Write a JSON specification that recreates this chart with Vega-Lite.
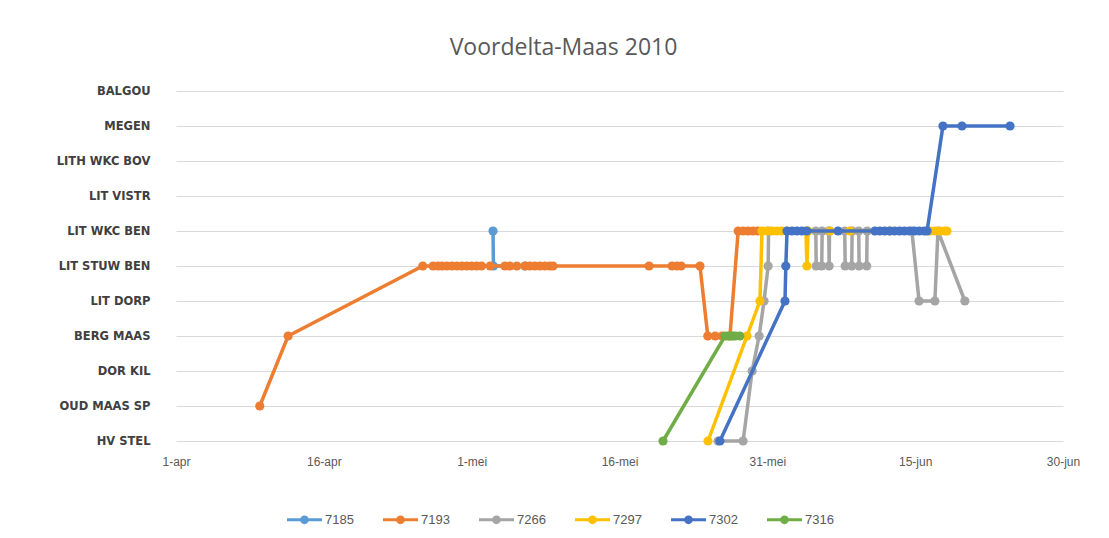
{
  "$schema": "https://vega.github.io/schema/vega-lite/v6.json",
  "width": 887,
  "height": 350,
  "autosize": {"type": "none"},
  "padding": {"left": 176, "top": 91, "right": 46, "bottom": 97},
  "background": "white",
  "title": {
    "text": "Voordelta-Maas 2010",
    "font": "Open Sans",
    "fontSize": 23,
    "fontWeight": "normal",
    "color": "#595959",
    "anchor": "middle",
    "frame": "group",
    "dx": -56,
    "offset": 25
  },
  "config": {
    "view": {"stroke": null},
    "axis": {"gridColor": "#D9D9D9", "gridWidth": 1, "domain": false, "ticks": false}
  },
  "data": {
    "values": [
      {"series": "7185", "date": "2010-05-03T04:00", "station": "LIT WKC BEN"},
      {"series": "7185", "date": "2010-05-03T05:00", "station": "LIT STUW BEN"},
      {"series": "7185", "date": "2010-05-06T10:00", "station": "LIT STUW BEN"},

      {"series": "7193", "date": "2010-04-09T12:00", "station": "OUD MAAS SP"},
      {"series": "7193", "date": "2010-04-12T09:00", "station": "BERG MAAS"},
      {"series": "7193", "date": "2010-04-26T01:00", "station": "LIT STUW BEN"},
      {"series": "7193", "date": "2010-04-27T02:00", "station": "LIT STUW BEN"},
      {"series": "7193", "date": "2010-04-27T14:00", "station": "LIT STUW BEN"},
      {"series": "7193", "date": "2010-04-28T00:00", "station": "LIT STUW BEN"},
      {"series": "7193", "date": "2010-04-28T12:00", "station": "LIT STUW BEN"},
      {"series": "7193", "date": "2010-04-29T00:00", "station": "LIT STUW BEN"},
      {"series": "7193", "date": "2010-04-29T12:00", "station": "LIT STUW BEN"},
      {"series": "7193", "date": "2010-04-30T00:00", "station": "LIT STUW BEN"},
      {"series": "7193", "date": "2010-04-30T12:00", "station": "LIT STUW BEN"},
      {"series": "7193", "date": "2010-05-01T00:00", "station": "LIT STUW BEN"},
      {"series": "7193", "date": "2010-05-01T12:00", "station": "LIT STUW BEN"},
      {"series": "7193", "date": "2010-05-02T00:00", "station": "LIT STUW BEN"},
      {"series": "7193", "date": "2010-05-02T21:00", "station": "LIT STUW BEN"},
      {"series": "7193", "date": "2010-05-04T09:00", "station": "LIT STUW BEN"},
      {"series": "7193", "date": "2010-05-04T21:00", "station": "LIT STUW BEN"},
      {"series": "7193", "date": "2010-05-05T14:00", "station": "LIT STUW BEN"},
      {"series": "7193", "date": "2010-05-06T10:00", "station": "LIT STUW BEN"},
      {"series": "7193", "date": "2010-05-06T22:00", "station": "LIT STUW BEN"},
      {"series": "7193", "date": "2010-05-07T10:00", "station": "LIT STUW BEN"},
      {"series": "7193", "date": "2010-05-07T22:00", "station": "LIT STUW BEN"},
      {"series": "7193", "date": "2010-05-08T10:00", "station": "LIT STUW BEN"},
      {"series": "7193", "date": "2010-05-08T22:00", "station": "LIT STUW BEN"},
      {"series": "7193", "date": "2010-05-09T06:00", "station": "LIT STUW BEN"},
      {"series": "7193", "date": "2010-05-19T00:00", "station": "LIT STUW BEN"},
      {"series": "7193", "date": "2010-05-21T08:00", "station": "LIT STUW BEN"},
      {"series": "7193", "date": "2010-05-21T20:00", "station": "LIT STUW BEN"},
      {"series": "7193", "date": "2010-05-22T06:00", "station": "LIT STUW BEN"},
      {"series": "7193", "date": "2010-05-24T04:00", "station": "LIT STUW BEN"},
      {"series": "7193", "date": "2010-05-24T23:00", "station": "BERG MAAS"},
      {"series": "7193", "date": "2010-05-25T17:00", "station": "BERG MAAS"},
      {"series": "7193", "date": "2010-05-26T10:00", "station": "BERG MAAS"},
      {"series": "7193", "date": "2010-05-27T05:00", "station": "BERG MAAS"},
      {"series": "7193", "date": "2010-05-28T01:00", "station": "LIT WKC BEN"},
      {"series": "7193", "date": "2010-05-28T13:00", "station": "LIT WKC BEN"},
      {"series": "7193", "date": "2010-05-29T01:00", "station": "LIT WKC BEN"},
      {"series": "7193", "date": "2010-05-29T13:00", "station": "LIT WKC BEN"},
      {"series": "7193", "date": "2010-05-30T01:00", "station": "LIT WKC BEN"},

      {"series": "7266", "date": "2010-05-26T00:00", "station": "HV STEL"},
      {"series": "7266", "date": "2010-05-28T13:00", "station": "HV STEL"},
      {"series": "7266", "date": "2010-05-29T11:00", "station": "DOR KIL"},
      {"series": "7266", "date": "2010-05-30T04:00", "station": "BERG MAAS"},
      {"series": "7266", "date": "2010-05-30T16:00", "station": "LIT DORP"},
      {"series": "7266", "date": "2010-05-31T02:00", "station": "LIT STUW BEN"},
      {"series": "7266", "date": "2010-05-31T03:00", "station": "LIT WKC BEN"},
      {"series": "7266", "date": "2010-06-04T22:00", "station": "LIT WKC BEN"},
      {"series": "7266", "date": "2010-06-04T23:00", "station": "LIT STUW BEN"},
      {"series": "7266", "date": "2010-06-05T12:30", "station": "LIT STUW BEN"},
      {"series": "7266", "date": "2010-06-05T13:30", "station": "LIT WKC BEN"},
      {"series": "7266", "date": "2010-06-06T05:30", "station": "LIT WKC BEN"},
      {"series": "7266", "date": "2010-06-06T06:30", "station": "LIT STUW BEN"},
      {"series": "7266", "date": "2010-06-06T07:30", "station": "LIT WKC BEN"},
      {"series": "7266", "date": "2010-06-07T20:30", "station": "LIT WKC BEN"},
      {"series": "7266", "date": "2010-06-07T21:30", "station": "LIT STUW BEN"},
      {"series": "7266", "date": "2010-06-08T13:30", "station": "LIT STUW BEN"},
      {"series": "7266", "date": "2010-06-08T14:30", "station": "LIT WKC BEN"},
      {"series": "7266", "date": "2010-06-09T06:30", "station": "LIT WKC BEN"},
      {"series": "7266", "date": "2010-06-09T07:30", "station": "LIT STUW BEN"},
      {"series": "7266", "date": "2010-06-10T02:00", "station": "LIT STUW BEN"},
      {"series": "7266", "date": "2010-06-10T03:00", "station": "LIT WKC BEN"},
      {"series": "7266", "date": "2010-06-14T16:00", "station": "LIT WKC BEN"},
      {"series": "7266", "date": "2010-06-15T09:30", "station": "LIT DORP"},
      {"series": "7266", "date": "2010-06-17T00:00", "station": "LIT DORP"},
      {"series": "7266", "date": "2010-06-17T07:30", "station": "LIT WKC BEN"},
      {"series": "7266", "date": "2010-06-20T01:00", "station": "LIT DORP"},

      {"series": "7297", "date": "2010-05-24T23:30", "station": "HV STEL"},
      {"series": "7297", "date": "2010-05-28T22:30", "station": "BERG MAAS"},
      {"series": "7297", "date": "2010-05-30T06:00", "station": "LIT DORP"},
      {"series": "7297", "date": "2010-05-30T11:00", "station": "LIT WKC BEN"},
      {"series": "7297", "date": "2010-05-30T23:00", "station": "LIT WKC BEN"},
      {"series": "7297", "date": "2010-05-31T11:00", "station": "LIT WKC BEN"},
      {"series": "7297", "date": "2010-05-31T23:00", "station": "LIT WKC BEN"},
      {"series": "7297", "date": "2010-06-01T11:00", "station": "LIT WKC BEN"},
      {"series": "7297", "date": "2010-06-01T23:00", "station": "LIT WKC BEN"},
      {"series": "7297", "date": "2010-06-03T22:00", "station": "LIT WKC BEN"},
      {"series": "7297", "date": "2010-06-04T00:30", "station": "LIT STUW BEN"},
      {"series": "7297", "date": "2010-06-04T03:00", "station": "LIT WKC BEN"},
      {"series": "7297", "date": "2010-06-06T08:30", "station": "LIT WKC BEN"},
      {"series": "7297", "date": "2010-06-08T09:00", "station": "LIT WKC BEN"},
      {"series": "7297", "date": "2010-06-12T10:30", "station": "LIT WKC BEN"},
      {"series": "7297", "date": "2010-06-16T12:00", "station": "LIT WKC BEN"},
      {"series": "7297", "date": "2010-06-17T00:00", "station": "LIT WKC BEN"},
      {"series": "7297", "date": "2010-06-17T12:00", "station": "LIT WKC BEN"},
      {"series": "7297", "date": "2010-06-18T00:00", "station": "LIT WKC BEN"},
      {"series": "7297", "date": "2010-06-18T05:30", "station": "LIT WKC BEN"},

      {"series": "7302", "date": "2010-05-26T04:30", "station": "HV STEL"},
      {"series": "7302", "date": "2010-06-01T19:00", "station": "LIT DORP"},
      {"series": "7302", "date": "2010-06-01T21:00", "station": "LIT STUW BEN"},
      {"series": "7302", "date": "2010-06-02T00:00", "station": "LIT WKC BEN"},
      {"series": "7302", "date": "2010-06-02T12:00", "station": "LIT WKC BEN"},
      {"series": "7302", "date": "2010-06-03T00:00", "station": "LIT WKC BEN"},
      {"series": "7302", "date": "2010-06-03T12:00", "station": "LIT WKC BEN"},
      {"series": "7302", "date": "2010-06-04T00:00", "station": "LIT WKC BEN"},
      {"series": "7302", "date": "2010-06-07T04:00", "station": "LIT WKC BEN"},
      {"series": "7302", "date": "2010-06-10T22:00", "station": "LIT WKC BEN"},
      {"series": "7302", "date": "2010-06-11T10:00", "station": "LIT WKC BEN"},
      {"series": "7302", "date": "2010-06-11T22:00", "station": "LIT WKC BEN"},
      {"series": "7302", "date": "2010-06-12T10:00", "station": "LIT WKC BEN"},
      {"series": "7302", "date": "2010-06-12T22:00", "station": "LIT WKC BEN"},
      {"series": "7302", "date": "2010-06-13T10:00", "station": "LIT WKC BEN"},
      {"series": "7302", "date": "2010-06-13T22:00", "station": "LIT WKC BEN"},
      {"series": "7302", "date": "2010-06-14T10:00", "station": "LIT WKC BEN"},
      {"series": "7302", "date": "2010-06-14T22:00", "station": "LIT WKC BEN"},
      {"series": "7302", "date": "2010-06-15T10:00", "station": "LIT WKC BEN"},
      {"series": "7302", "date": "2010-06-15T22:00", "station": "LIT WKC BEN"},
      {"series": "7302", "date": "2010-06-16T05:00", "station": "LIT WKC BEN"},
      {"series": "7302", "date": "2010-06-17T19:40", "station": "MEGEN"},
      {"series": "7302", "date": "2010-06-19T18:00", "station": "MEGEN"},
      {"series": "7302", "date": "2010-06-24T15:00", "station": "MEGEN"},

      {"series": "7316", "date": "2010-05-20T10:00", "station": "HV STEL"},
      {"series": "7316", "date": "2010-05-26T17:00", "station": "BERG MAAS"},
      {"series": "7316", "date": "2010-05-27T00:00", "station": "BERG MAAS"},
      {"series": "7316", "date": "2010-05-27T06:00", "station": "BERG MAAS"},
      {"series": "7316", "date": "2010-05-27T12:00", "station": "BERG MAAS"},
      {"series": "7316", "date": "2010-05-27T18:00", "station": "BERG MAAS"},
      {"series": "7316", "date": "2010-05-28T05:00", "station": "BERG MAAS"}
    ]
  },
  "encoding": {
    "x": {
      "field": "date",
      "type": "temporal",
      "scale": {
        "domain": [
          {"year": 2010, "month": "apr", "date": 1},
          {"year": 2010, "month": "jun", "date": 30}
        ]
      },
      "axis": {
        "title": null,
        "grid": false,
        "values": [
          {"year": 2010, "month": "apr", "date": 1},
          {"year": 2010, "month": "apr", "date": 16},
          {"year": 2010, "month": "may", "date": 1},
          {"year": 2010, "month": "may", "date": 16},
          {"year": 2010, "month": "may", "date": 31},
          {"year": 2010, "month": "jun", "date": 15},
          {"year": 2010, "month": "jun", "date": 30}
        ],
        "labelExpr": "date(datum.value) + '-' + ['jan','feb','mrt','apr','mei','jun','jul'][month(datum.value)]",
        "labelFont": "Liberation Sans",
        "labelFontSize": 12,
        "labelColor": "#595959",
        "labelPadding": 15,
        "labelFlush": false,
        "labelOverlap": false
      }
    },
    "y": {
      "field": "station",
      "type": "ordinal",
      "scale": {
        "type": "point",
        "padding": 0,
        "domain": ["BALGOU", "MEGEN", "LITH WKC BOV", "LIT VISTR", "LIT WKC BEN", "LIT STUW BEN", "LIT DORP", "BERG MAAS", "DOR KIL", "OUD MAAS SP", "HV STEL"]
      },
      "axis": {
        "title": null,
        "grid": true,
        "labelFont": "DejaVu Sans",
        "labelFontWeight": "bold",
        "labelFontSize": 11.5,
        "labelColor": "#404040",
        "labelPadding": 26
      }
    },
    "color": {
      "field": "series",
      "type": "nominal",
      "scale": {
        "domain": ["7185", "7193", "7266", "7297", "7302", "7316"],
        "range": ["#5B9BD5", "#ED7D31", "#A5A5A5", "#FFC000", "#4472C4", "#70AD47"]
      },
      "legend": {
        "title": null,
        "orient": "none",
        "direction": "horizontal",
        "legendX": 111,
        "legendY": 411,
        "symbolType": "M-1,-0.09L1,-0.09L1,0.09L-1,0.09Z M0.25,0A0.25,0.25,0,1,1,-0.25,0A0.25,0.25,0,1,1,0.25,0Z",
        "symbolSize": 1225,
        "symbolStrokeWidth": 0,
        "labelFont": "Liberation Sans",
        "labelFontSize": 13,
        "labelColor": "#595959",
        "labelOffset": 3,
        "columnPadding": 29,
        "encode": {
          "symbols": {
            "update": {
              "fill": {"scale": "color", "field": "value"},
              "stroke": {"value": "transparent"},
              "opacity": {"value": 1}
            }
          }
        }
      }
    }
  },
  "layer": [
    {"transform": [{"filter": "datum.series == '7185'"}], "mark": {"type": "line", "strokeWidth": 3.5, "point": {"filled": true, "size": 85}}},
    {"transform": [{"filter": "datum.series == '7193'"}], "mark": {"type": "line", "strokeWidth": 3.5, "point": {"filled": true, "size": 85}}},
    {"transform": [{"filter": "datum.series == '7266'"}], "mark": {"type": "line", "strokeWidth": 3.5, "point": {"filled": true, "size": 85}}},
    {"transform": [{"filter": "datum.series == '7297'"}], "mark": {"type": "line", "strokeWidth": 3.5, "point": {"filled": true, "size": 85}}},
    {"transform": [{"filter": "datum.series == '7302'"}], "mark": {"type": "line", "strokeWidth": 3.5, "point": {"filled": true, "size": 85}}},
    {"transform": [{"filter": "datum.series == '7316'"}], "mark": {"type": "line", "strokeWidth": 3.5, "point": {"filled": true, "size": 85}}}
  ]
}
